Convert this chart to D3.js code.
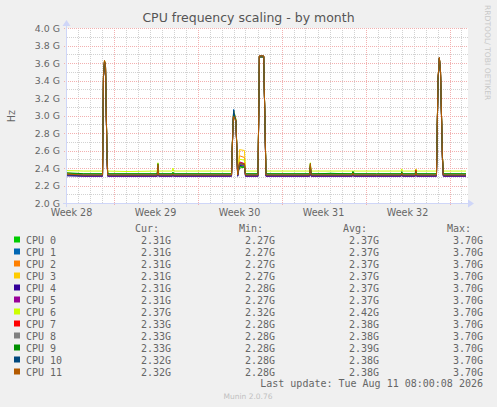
<!DOCTYPE html>
<html>
<head>
<meta charset="utf-8">
<script src="https://cdn.jsdelivr.net/npm/d3@7"></script>
<style>
    html, body { margin: 0; padding: 0; background: #f0f0f0; }
    svg { display: block; }
    text { font-family: "DejaVu Sans", sans-serif; fill: #666; }
    .mono { font-family: "DejaVu Sans Mono", monospace; font-size: 10px; }
</style>
</head>
<body>
<div id="chart"></div>
<script>
// --- data (GHz), sampled at day offsets from the start of the month window ---
const startTime = Date.UTC(2026, 6, 9, 3, 0, 0);
const spanDays = 400 / 12;

const dayOffsets = [0, 1.4, 2.96, 3.04, 3.125, 3.21, 3.33, 3.39, 5.0, 7.52, 7.58, 7.64, 8.78, 8.83, 8.88,
    11.0, 13.71, 13.83, 13.89, 14.0, 14.08, 14.22, 14.31, 14.375, 14.79, 14.875, 15.92, 16.03, 16.39, 16.58,
    18.5, 20.22, 20.28, 20.34, 22.0, 23.78, 23.83, 23.88, 25.8, 27.85, 27.9, 27.95, 29.03, 29.08, 29.13,
    30.79, 30.92, 31.03, 31.125, 31.29, 31.36, 33.25];

const cpuNames = ["CPU 0", "CPU 1", "CPU 2", "CPU 3", "CPU 4", "CPU 5", "CPU 6", "CPU 7", "CPU 8", "CPU 9", "CPU 10", "CPU 11"];
const cpuColors = ["#00cc00", "#0066b3", "#ff8000", "#ffcc00", "#330099", "#990099", "#ccff00", "#ff0000", "#808080", "#008f00", "#00487d", "#b35a00"];

const cpu0 = [2.34, 2.33, 2.33, 3.44, 3.61, 3.54, 2.56, 2.33, 2.33, 2.33, 2.42, 2.33, 2.33, 2.35, 2.33, 2.33, 2.33, 2.88, 3.03, 2.97, 2.93, 2.34, 2.38, 2.40, 2.41, 2.33, 2.33, 3.67, 3.67, 2.33, 2.33, 2.33, 2.42, 2.33, 2.34, 2.33, 2.36, 2.33, 2.33, 2.33, 2.35, 2.33, 2.33, 2.35, 2.33, 2.33, 3.38, 3.65, 3.49, 2.50, 2.33, 2.33];
const cpu1 = [2.32, 2.31, 2.31, 3.45, 3.62, 3.55, 2.55, 2.31, 2.31, 2.31, 2.40, 2.31, 2.31, 2.32, 2.31, 2.31, 2.31, 2.92, 3.07, 2.99, 2.95, 2.31, 2.39, 2.44, 2.43, 2.31, 2.31, 3.68, 3.68, 2.31, 2.31, 2.31, 2.40, 2.31, 2.31, 2.31, 2.33, 2.31, 2.31, 2.31, 2.33, 2.31, 2.31, 2.34, 2.31, 2.31, 3.40, 3.66, 3.50, 2.50, 2.31, 2.31];
const cpu2 = [2.33, 2.32, 2.32, 3.46, 3.63, 3.56, 2.58, 2.32, 2.32, 2.32, 2.43, 2.32, 2.32, 2.33, 2.32, 2.32, 2.32, 2.90, 3.04, 2.98, 2.94, 2.32, 2.42, 2.54, 2.52, 2.32, 2.32, 3.68, 3.68, 2.32, 2.32, 2.32, 2.43, 2.32, 2.32, 2.32, 2.34, 2.32, 2.32, 2.32, 2.34, 2.32, 2.32, 2.35, 2.32, 2.32, 3.41, 3.66, 3.51, 2.52, 2.32, 2.32];
const cpu3 = [2.33, 2.32, 2.32, 3.45, 3.63, 3.55, 2.57, 2.32, 2.32, 2.32, 2.44, 2.32, 2.32, 2.34, 2.32, 2.32, 2.32, 2.91, 3.05, 2.99, 2.95, 2.32, 2.45, 2.61, 2.60, 2.32, 2.32, 3.68, 3.68, 2.32, 2.32, 2.32, 2.44, 2.32, 2.32, 2.32, 2.34, 2.32, 2.32, 2.32, 2.35, 2.32, 2.32, 2.36, 2.32, 2.32, 3.40, 3.66, 3.50, 2.51, 2.32, 2.32];
const cpu4 = [2.31, 2.305, 2.305, 3.44, 3.61, 3.54, 2.54, 2.305, 2.305, 2.305, 2.39, 2.305, 2.305, 2.31, 2.305, 2.305, 2.305, 2.89, 3.02, 2.97, 2.93, 2.305, 2.37, 2.43, 2.42, 2.305, 2.305, 3.67, 3.67, 2.305, 2.305, 2.305, 2.39, 2.305, 2.305, 2.305, 2.32, 2.305, 2.305, 2.305, 2.32, 2.305, 2.305, 2.33, 2.305, 2.305, 3.39, 3.65, 3.49, 2.49, 2.305, 2.305];
const cpu5 = [2.32, 2.31, 2.31, 3.44, 3.62, 3.55, 2.55, 2.31, 2.31, 2.31, 2.40, 2.31, 2.31, 2.32, 2.31, 2.31, 2.31, 2.89, 3.03, 2.97, 2.93, 2.31, 2.40, 2.47, 2.45, 2.31, 2.31, 3.67, 3.67, 2.31, 2.31, 2.31, 2.40, 2.31, 2.31, 2.31, 2.33, 2.31, 2.31, 2.31, 2.33, 2.31, 2.31, 2.34, 2.31, 2.31, 3.40, 3.65, 3.50, 2.50, 2.31, 2.31];
const cpu6 = [2.37, 2.365, 2.365, 3.46, 3.63, 3.56, 2.60, 2.365, 2.36, 2.365, 2.46, 2.365, 2.365, 2.40, 2.365, 2.365, 2.365, 2.93, 3.05, 3.00, 2.96, 2.365, 2.43, 2.50, 2.49, 2.365, 2.365, 3.68, 3.68, 2.365, 2.365, 2.365, 2.46, 2.365, 2.365, 2.365, 2.37, 2.365, 2.365, 2.365, 2.39, 2.365, 2.365, 2.39, 2.365, 2.365, 3.42, 3.66, 3.51, 2.53, 2.365, 2.365];
const cpu7 = [2.33, 2.32, 2.32, 3.45, 3.62, 3.55, 2.56, 2.32, 2.32, 2.32, 2.42, 2.32, 2.32, 2.33, 2.32, 2.32, 2.32, 2.90, 3.03, 2.98, 2.94, 2.32, 2.41, 2.46, 2.45, 2.32, 2.32, 3.68, 3.68, 2.32, 2.32, 2.32, 2.43, 2.32, 2.32, 2.32, 2.34, 2.32, 2.32, 2.32, 2.34, 2.32, 2.32, 2.38, 2.32, 2.32, 3.41, 3.66, 3.50, 2.51, 2.32, 2.32];
const cpu8 = [2.33, 2.325, 2.325, 3.45, 3.62, 3.55, 2.56, 2.325, 2.325, 2.325, 2.42, 2.325, 2.325, 2.33, 2.325, 2.325, 2.325, 2.89, 3.02, 2.97, 2.93, 2.325, 2.40, 2.45, 2.44, 2.325, 2.325, 3.67, 3.67, 2.325, 2.325, 2.325, 2.42, 2.325, 2.325, 2.325, 2.34, 2.325, 2.325, 2.325, 2.34, 2.325, 2.325, 2.35, 2.325, 2.325, 3.40, 3.65, 3.50, 2.51, 2.325, 2.325];
const cpu9 = [2.345, 2.335, 2.335, 3.45, 3.62, 3.55, 2.57, 2.335, 2.335, 2.335, 2.45, 2.335, 2.335, 2.35, 2.335, 2.335, 2.335, 2.89, 3.02, 2.97, 2.93, 2.335, 2.39, 2.42, 2.41, 2.335, 2.335, 3.67, 3.67, 2.335, 2.335, 2.335, 2.45, 2.335, 2.335, 2.335, 2.36, 2.335, 2.335, 2.335, 2.36, 2.335, 2.335, 2.36, 2.335, 2.335, 3.40, 3.65, 3.50, 2.51, 2.335, 2.335];
const cpu10 = [2.32, 2.315, 2.315, 3.45, 3.62, 3.55, 2.56, 2.315, 2.315, 2.315, 2.41, 2.315, 2.315, 2.32, 2.315, 2.315, 2.315, 2.91, 3.06, 2.98, 2.94, 2.315, 2.39, 2.45, 2.44, 2.315, 2.315, 3.68, 3.68, 2.315, 2.315, 2.315, 2.41, 2.315, 2.315, 2.315, 2.33, 2.315, 2.315, 2.315, 2.33, 2.315, 2.315, 2.34, 2.315, 2.315, 3.41, 3.66, 3.50, 2.51, 2.315, 2.315];
const cpu11 = [2.33, 2.32, 2.32, 3.46, 3.63, 3.56, 2.58, 2.32, 2.32, 2.32, 2.44, 2.32, 2.32, 2.33, 2.32, 2.32, 2.32, 2.88, 2.99, 2.96, 2.93, 2.32, 2.40, 2.45, 2.44, 2.32, 2.32, 3.68, 3.68, 2.32, 2.32, 2.32, 2.45, 2.32, 2.32, 2.32, 2.34, 2.32, 2.32, 2.32, 2.34, 2.32, 2.32, 2.35, 2.32, 2.32, 3.42, 3.66, 3.51, 2.52, 2.32, 2.32];
const cpuSeries = [cpu0, cpu1, cpu2, cpu3, cpu4, cpu5, cpu6, cpu7, cpu8, cpu9, cpu10, cpu11];

const curVals = ["2.31G", "2.31G", "2.31G", "2.31G", "2.31G", "2.31G", "2.37G", "2.33G", "2.33G", "2.33G", "2.32G", "2.32G"];
const minVals = ["2.27G", "2.27G", "2.27G", "2.27G", "2.28G", "2.27G", "2.32G", "2.28G", "2.28G", "2.28G", "2.28G", "2.28G"];
const avgVals = ["2.37G", "2.37G", "2.37G", "2.37G", "2.37G", "2.37G", "2.42G", "2.38G", "2.38G", "2.39G", "2.38G", "2.38G"];
const maxVals = ["3.70G", "3.70G", "3.70G", "3.70G", "3.70G", "3.70G", "3.70G", "3.70G", "3.70G", "3.70G", "3.70G", "3.70G"];

const weekLabels = ["Week 28", "Week 29", "Week 30", "Week 31", "Week 32"];
// labels sit in the middle of each ISO week (Thursday noon)
const weekLabelDates = ["2026-07-09T12:00Z", "2026-07-16T12:00Z", "2026-07-23T12:00Z", "2026-07-30T12:00Z", "2026-08-06T12:00Z"];

const title = "CPU frequency scaling - by month";
const lastUpdate = "Last update: Tue Aug 11 08:00:08 2026";

// --- layout ---
const width = 497, height = 407;
const plot = {left: 67, right: 467, top: 28, bottom: 203};

const svg = d3.select("#chart").append("svg")
    .attr("width", width)
    .attr("height", height);

svg.append("rect").attr("width", width).attr("height", height).attr("fill", "#f0f0f0");

const x = d3.scaleUtc()
    .domain([new Date(startTime), new Date(startTime + spanDays * 864e5)])
    .range([plot.left, plot.right]);

const y = d3.scaleLinear()
    .domain([2.0, 4.0])
    .range([plot.bottom, plot.top]);

const toDate = d => new Date(startTime + d * 864e5);

// canvas
svg.append("rect")
    .attr("x", plot.left).attr("y", plot.top)
    .attr("width", plot.right - plot.left + 1).attr("height", plot.bottom - plot.top)
    .attr("fill", "#fff");

// grid
const grid = svg.append("g").attr("shape-rendering", "crispEdges");
const crisp = v => Math.round(v) + 0.5;
const minorColor = "#d2d2d2";
const majorColor = "#f2b0b0";

const dayTicks = d3.utcDay.range(x.domain()[0], x.domain()[1]);
const mondayTicks = d3.utcMonday.range(x.domain()[0], x.domain()[1]);
const isMonday = d => mondayTicks.some(m => +m === +d);

grid.selectAll(".vminor")
    .data(dayTicks.filter(d => !isMonday(d)))
    .join("line")
    .attr("x1", d => crisp(x(d))).attr("x2", d => crisp(x(d)))
    .attr("y1", plot.top).attr("y2", plot.bottom)
    .attr("stroke", minorColor).attr("stroke-dasharray", "1,1");

const yMinor = y.ticks(20).filter(v => Math.round(v * 10) % 2 === 1);
const yMajor = y.ticks(10);

grid.selectAll(".hminor")
    .data(yMinor)
    .join("line")
    .attr("x1", plot.left).attr("x2", plot.right + 1)
    .attr("y1", d => crisp(y(d))).attr("y2", d => crisp(y(d)))
    .attr("stroke", minorColor).attr("stroke-dasharray", "1,1");

grid.selectAll(".vmajor")
    .data(mondayTicks)
    .join("line")
    .attr("x1", d => crisp(x(d))).attr("x2", d => crisp(x(d)))
    .attr("y1", plot.top).attr("y2", plot.bottom + 3)
    .attr("stroke", majorColor).attr("stroke-dasharray", "1,1");

grid.selectAll(".hmajor")
    .data(yMajor)
    .join("line")
    .attr("x1", plot.left - 3).attr("x2", plot.right + 1)
    .attr("y1", d => crisp(y(d))).attr("y2", d => crisp(y(d)))
    .attr("stroke", majorColor).attr("stroke-dasharray", "1,1");

// series lines, CPU 11 ends up on top
const line = d3.line()
    .x((v, i) => x(toDate(dayOffsets[i])))
    .y(v => y(v));

svg.append("g")
    .selectAll("path")
    .data(cpuSeries)
    .join("path")
    .attr("d", line)
    .attr("fill", "none")
    .attr("stroke", (d, i) => cpuColors[i])
    .attr("stroke-width", 1);

// axes + arrows
const axisColor = "#cfd6f8";
svg.append("line")
    .attr("x1", plot.left - 4).attr("x2", plot.right + 2)
    .attr("y1", crisp(y(2.0))).attr("y2", crisp(y(2.0)))
    .attr("stroke", axisColor).attr("shape-rendering", "crispEdges");
svg.append("line")
    .attr("x1", plot.left - 0.5).attr("x2", plot.left - 0.5)
    .attr("y1", plot.bottom + 4).attr("y2", plot.top - 3)
    .attr("stroke", axisColor).attr("shape-rendering", "crispEdges");

const ax = plot.right + 1, ay = crisp(y(2.0));
svg.append("path")
    .attr("d", `M${ax},${ay - 4}L${ax + 6},${ay}L${ax},${ay + 4}Z`)
    .attr("fill", axisColor);
const bx = plot.left - 0.5, by = plot.top - 2;
svg.append("path")
    .attr("d", `M${bx - 4},${by}L${bx},${by - 6}L${bx + 4},${by}Z`)
    .attr("fill", axisColor);

// y tick labels
svg.append("g")
    .selectAll("text")
    .data(yMajor)
    .join("text")
    .attr("x", plot.left - 7)
    .attr("y", d => y(d) + 3.5)
    .attr("text-anchor", "end")
    .attr("font-size", "9.4px")
    .text(d => d3.format(".1f")(d) + " G");

// x labels
svg.append("g")
    .selectAll("text")
    .data(weekLabels)
    .join("text")
    .attr("x", (d, i) => x(new Date(weekLabelDates[i])))
    .attr("y", 216)
    .attr("text-anchor", "middle")
    .attr("font-size", "9.6px")
    .text(d => d);

// title, unit, watermark
svg.append("text")
    .attr("x", width / 2).attr("y", 22)
    .attr("text-anchor", "middle")
    .attr("font-size", "12.5px")
    .style("fill", "#555")
    .text(title);

svg.append("text")
    .attr("transform", "translate(15,116) rotate(-90)")
    .attr("text-anchor", "middle")
    .attr("font-size", "9.6px")
    .text("Hz");

svg.append("text")
    .attr("transform", "translate(485,5) rotate(90)")
    .attr("font-size", "7.6px")
    .style("fill", "#c8c8c8")
    .text("RRDTOOL/ TOBI OETIKER");

// legend
const legend = svg.append("g").attr("class", "mono");
const colRight = [171, 275, 379, 483];
const headers = ["Cur:", "Min:", "Avg:", "Max:"];

legend.selectAll(".hdr")
    .data(headers)
    .join("text")
    .attr("class", "mono")
    .attr("x", (d, i) => colRight[i] - 12)
    .attr("y", 232)
    .attr("text-anchor", "end")
    .text(d => d);

const rows = legend.selectAll(".row")
    .data(cpuNames)
    .join("g")
    .attr("transform", (d, i) => `translate(0,${243.5 + i * 12})`);

rows.append("rect")
    .attr("x", 14).attr("y", -7)
    .attr("width", 6).attr("height", 6)
    .attr("fill", (d, i) => cpuColors[i]);

rows.append("text")
    .attr("class", "mono")
    .attr("x", 26)
    .text(d => d);

[curVals, minVals, avgVals, maxVals].forEach((vals, c) => {
    rows.append("text")
        .attr("class", "mono")
        .attr("x", colRight[c])
        .attr("text-anchor", "end")
        .text((d, i) => vals[i]);
});

legend.append("text")
    .attr("class", "mono")
    .attr("x", 483).attr("y", 387)
    .attr("text-anchor", "end")
    .text(lastUpdate);

svg.append("text")
    .attr("x", 248).attr("y", 398.5)
    .attr("text-anchor", "middle")
    .attr("font-size", "7.5px")
    .style("fill", "#c0c0c0")
    .text("Munin 2.0.76");
</script>
</body>
</html>
